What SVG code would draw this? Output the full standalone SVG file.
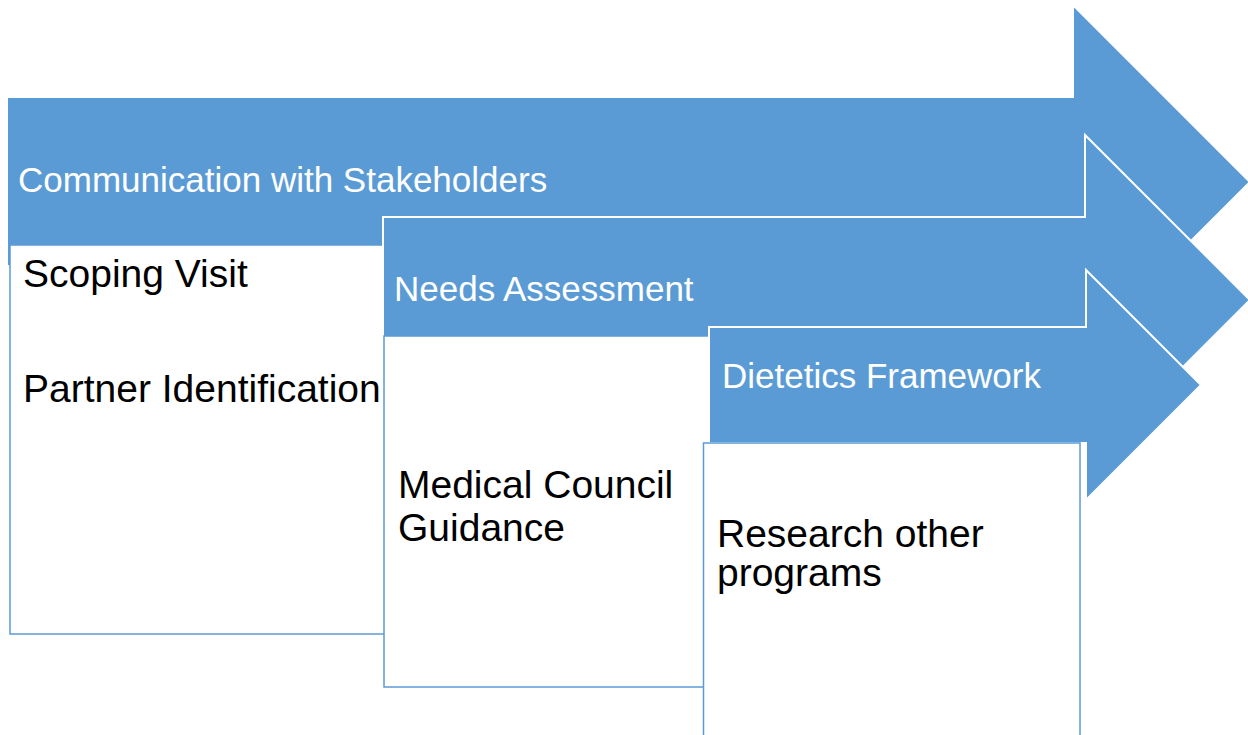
<svg xmlns="http://www.w3.org/2000/svg" width="1248" height="735" viewBox="0 0 1248 735">
<style>
.arrow{fill:#5B9BD5;stroke:#FFFFFF;stroke-width:2}
.box{fill:#FFFFFF;stroke:#5B9BD5;stroke-width:1.5}
.head{font-family:"Liberation Sans",Arial,sans-serif;font-size:35px;fill:#FFFFFF}
.body{font-family:"Liberation Sans",Arial,sans-serif;font-size:39px;fill:#000000}
</style>
<rect width="1248" height="735" fill="#FFFFFF"/>
<g id="step1">
<polygon class="arrow" points="7,97 1073,97 1073,5 1250,182 1073,359 1073,266 7,266"/>
<rect class="box" x="10" y="245" width="420" height="389"/>
<text class="head" x="18" y="192">Communication with Stakeholders</text>
<text class="body" x="23" y="287">Scoping Visit</text>
<text class="body" x="23" y="402">Partner Identification</text>
</g>
<g id="step2">
<polygon class="arrow" points="383,217 1085,217 1085,135 1250,300 1085,465 1085,383 383,383"/>
<rect class="box" x="384" y="336" width="360" height="351"/>
<text class="head" x="394" y="301">Needs Assessment</text>
<text class="body" x="398" y="498">Medical Council</text>
<text class="body" x="398" y="541">Guidance</text>
</g>
<g id="step3">
<polygon class="arrow" points="709,327 1086,327 1086,270 1201,385 1086,500 1086,443 709,443"/>
<rect class="box" x="703.5" y="443" width="376.5" height="300"/>
<text class="head" x="722" y="388">Dietetics Framework</text>
<text class="body" x="717" y="547">Research other</text>
<text class="body" x="717" y="586">programs</text>
</g>
<g id="connectors"/>
</svg>
